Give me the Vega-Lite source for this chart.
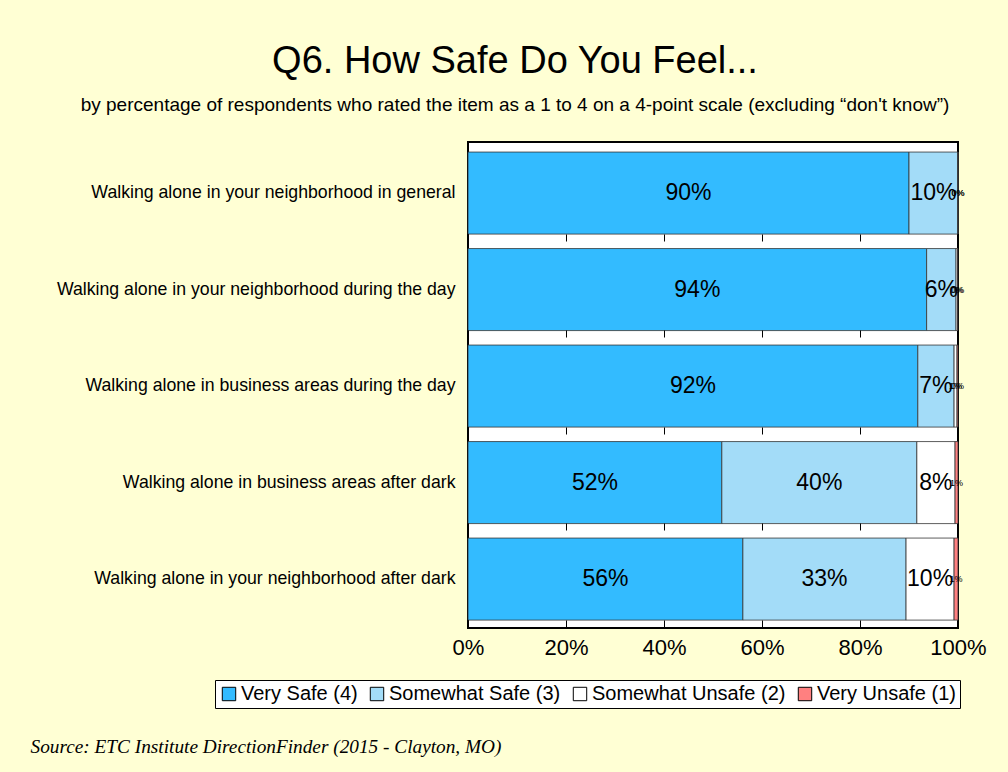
{
  "$schema": "https://vega.github.io/schema/vega-lite/v6.json",
  "autosize": "none",
  "width": 490,
  "height": 486,
  "padding": {"left": 468, "top": 142, "right": 50, "bottom": 144},
  "background": "#FFFFD4",
  "config": {
    "font": "Liberation Sans",
    "view": {"stroke": "black", "strokeWidth": 2, "fill": "white"}
  },
  "title": {
    "text": "Q6. How Safe Do You Feel...",
    "subtitle": "by percentage of respondents who rated the item as a 1 to 4 on a 4-point scale (excluding “don't know”)",
    "anchor": "middle",
    "frame": "group",
    "dx": -198,
    "offset": 27,
    "fontSize": 38,
    "fontWeight": "normal",
    "color": "black",
    "subtitleFontSize": 19,
    "subtitleColor": "black",
    "subtitlePadding": 15,
    "font": "Liberation Sans",
    "subtitleFont": "Liberation Sans"
  },
  "data": {
    "values": [
      {"item": "Walking alone in your neighborhood in general", "rating": "Very Safe (4)", "k": 1, "pct": 0.90},
      {"item": "Walking alone in your neighborhood in general", "rating": "Somewhat Safe (3)", "k": 2, "pct": 0.10},
      {"item": "Walking alone in your neighborhood in general", "rating": "Somewhat Unsafe (2)", "k": 3, "pct": 0.0},
      {"item": "Walking alone in your neighborhood in general", "rating": "Very Unsafe (1)", "k": 4, "pct": 0.0},
      {"item": "Walking alone in your neighborhood during the day", "rating": "Very Safe (4)", "k": 1, "pct": 0.936},
      {"item": "Walking alone in your neighborhood during the day", "rating": "Somewhat Safe (3)", "k": 2, "pct": 0.06},
      {"item": "Walking alone in your neighborhood during the day", "rating": "Somewhat Unsafe (2)", "k": 3, "pct": 0.003},
      {"item": "Walking alone in your neighborhood during the day", "rating": "Very Unsafe (1)", "k": 4, "pct": 0.001},
      {"item": "Walking alone in business areas during the day", "rating": "Very Safe (4)", "k": 1, "pct": 0.918},
      {"item": "Walking alone in business areas during the day", "rating": "Somewhat Safe (3)", "k": 2, "pct": 0.074},
      {"item": "Walking alone in business areas during the day", "rating": "Somewhat Unsafe (2)", "k": 3, "pct": 0.006},
      {"item": "Walking alone in business areas during the day", "rating": "Very Unsafe (1)", "k": 4, "pct": 0.002},
      {"item": "Walking alone in business areas after dark", "rating": "Very Safe (4)", "k": 1, "pct": 0.518},
      {"item": "Walking alone in business areas after dark", "rating": "Somewhat Safe (3)", "k": 2, "pct": 0.398},
      {"item": "Walking alone in business areas after dark", "rating": "Somewhat Unsafe (2)", "k": 3, "pct": 0.078},
      {"item": "Walking alone in business areas after dark", "rating": "Very Unsafe (1)", "k": 4, "pct": 0.006},
      {"item": "Walking alone in your neighborhood after dark", "rating": "Very Safe (4)", "k": 1, "pct": 0.561},
      {"item": "Walking alone in your neighborhood after dark", "rating": "Somewhat Safe (3)", "k": 2, "pct": 0.333},
      {"item": "Walking alone in your neighborhood after dark", "rating": "Somewhat Unsafe (2)", "k": 3, "pct": 0.098},
      {"item": "Walking alone in your neighborhood after dark", "rating": "Very Unsafe (1)", "k": 4, "pct": 0.008}
    ]
  },
  "encoding": {
    "y": {
      "field": "item",
      "type": "nominal",
      "sort": [
        "Walking alone in your neighborhood in general",
        "Walking alone in your neighborhood during the day",
        "Walking alone in business areas during the day",
        "Walking alone in business areas after dark",
        "Walking alone in your neighborhood after dark"
      ],
      "scale": {"paddingInner": 0.15, "paddingOuter": 0.093, "align": 0.56},
      "axis": {
        "title": null,
        "ticks": false,
        "domain": false,
        "labelFontSize": 17.7,
        "labelColor": "black",
        "labelPadding": 13,
        "labelLimit": 500
      }
    },
    "x": {
      "field": "pct",
      "type": "quantitative",
      "stack": "zero",
      "scale": {"domain": [0, 1], "nice": false},
      "axis": {
        "format": ".0%",
        "values": [0, 0.2, 0.4, 0.6, 0.8, 1],
        "grid": true,
        "gridColor": "black",
        "gridWidth": 1,
        "gridOpacity": 1,
        "gridDash": [8, 90, 7, 89, 7, 90, 7, 89, 7, 1000],
        "domain": false,
        "zindex": 1,
        "ticks": false,
        "labelFlush": false,
        "labelFontSize": 22,
        "labelColor": "black",
        "labelPadding": 9,
        "title": "Source:  ETC Institute DirectionFinder (2015 - Clayton, MO)",
        "titleX": -438,
        "titleY": 118,
        "titleAlign": "left",
        "titleAnchor": "start",
        "titleBaseline": "middle",
        "titleFont": "Liberation Serif",
        "titleFontStyle": "italic",
        "titleFontWeight": "normal",
        "titleFontSize": 19.3,
        "titleColor": "black"
      }
    },
    "order": {"field": "k", "type": "quantitative"}
  },
  "layer": [
    {
      "mark": {"type": "bar", "stroke": "#333333", "strokeWidth": 0.8},
      "encoding": {
        "color": {
          "field": "rating",
          "type": "nominal",
          "scale": {
            "domain": ["Very Safe (4)", "Somewhat Safe (3)", "Somewhat Unsafe (2)", "Very Unsafe (1)"],
            "range": ["#33BBFF", "#A3DCF8", "#FFFFFF", "#FF8080"]
          },
          "legend": {
            "title": null,
            "orient": "none",
            "legendX": -253,
            "legendY": 538,
            "direction": "horizontal",
            "columns": 4,
            "columnPadding": 9,
            "symbolType": "square",
            "symbolSize": 180,
            "symbolStrokeColor": "black",
            "symbolStrokeWidth": 1,
            "symbolOpacity": 1,
            "labelFontSize": 20,
            "labelLimit": 400,
            "labelColor": "black",
            "labelOffset": 2,
            "strokeColor": "black",
            "fillColor": "white",
            "padding": 4
          }
        }
      }
    },
    {
      "mark": {"type": "text", "color": "black", "align": "center", "baseline": "middle"},
      "encoding": {
        "x": {"field": "pct", "type": "quantitative", "stack": "zero", "bandPosition": 0.5},
        "text": {"field": "pct", "type": "quantitative", "format": ".0%"},
        "size": {
          "condition": {"test": "datum.pct < 0.02", "value": 9},
          "value": 23
        }
      }
    }
  ]
}
